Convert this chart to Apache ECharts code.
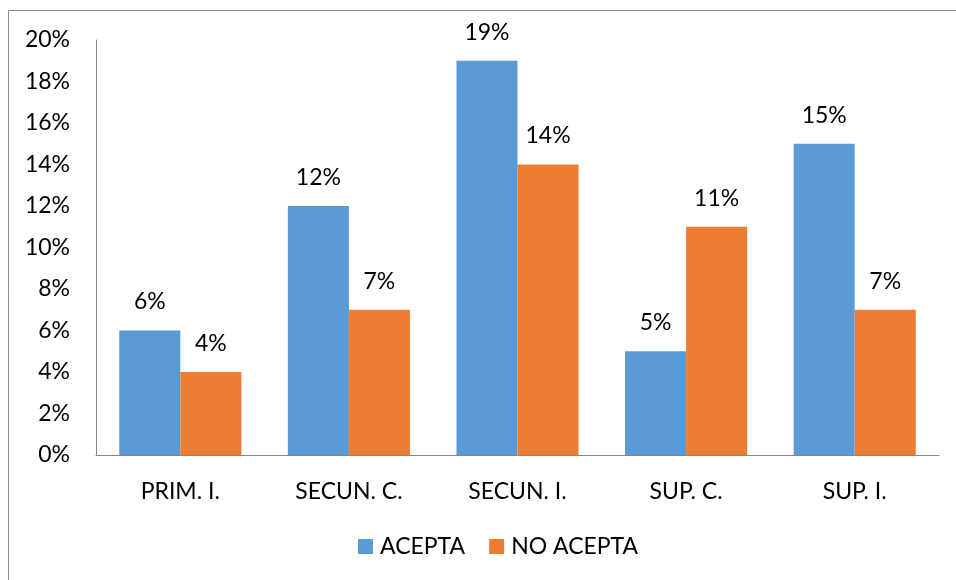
<!DOCTYPE html>
<html>
<head>
<meta charset="utf-8">
<script src="https://cdn.jsdelivr.net/npm/echarts@6/dist/echarts.min.js"></script>
<style>
  html, body { margin: 0; padding: 0; background: #fff; }
  #chart { width: 956px; height: 580px; }
</style>
</head>
<body>
<div id="chart"></div>
<script>
const categories = ['PRIM. I.', 'SECUN. C.', 'SECUN. I.', 'SUP. C.', 'SUP. I.'];
const acepta = [6, 12, 19, 5, 15];
const noAcepta = [4, 7, 14, 11, 7];
const seriesNames = ['ACEPTA', 'NO ACEPTA'];

const FONT = 'Lato, "Open Sans", sans-serif';
const FS = 23;
const chart = echarts.init(document.getElementById('chart'), null, { renderer: 'canvas' });

const labelStyle = {
  show: true,
  position: 'top',
  distance: 17,
  formatter: '{c}%',
  color: '#000',
  fontFamily: FONT,
  fontSize: FS
};

chart.setOption({
  animation: false,
  backgroundColor: '#fff',
  graphic: [{
    type: 'rect',
    shape: { x: 8.5, y: 10.5, width: 960, height: 580 },
    style: { fill: 'none', stroke: '#8c8c8c', lineWidth: 1 },
    silent: true
  }],
  grid: { left: 96, right: 17, top: 40, bottom: 125 },
  legend: {
    bottom: 17,
    left: 353,
    itemWidth: 15,
    itemHeight: 15,
    itemGap: 24,
    icon: 'rect',
    textStyle: { color: '#000', fontFamily: FONT, fontSize: FS, padding: [0, 0, 0, 2] },
    data: seriesNames
  },
  xAxis: {
    type: 'category',
    data: categories,
    axisLine: { lineStyle: { color: '#868686', width: 1 } },
    axisTick: { show: false },
    axisLabel: { color: '#000', fontFamily: FONT, fontSize: FS, margin: 25 }
  },
  yAxis: {
    type: 'value',
    min: 0,
    max: 20,
    interval: 2,
    axisLine: { show: true, lineStyle: { color: '#868686', width: 1 } },
    axisTick: { show: false },
    splitLine: { show: false },
    axisLabel: { color: '#000', fontFamily: FONT, fontSize: FS, margin: 26, formatter: '{value}%' }
  },
  series: [
    {
      name: seriesNames[0],
      type: 'bar',
      data: acepta,
      barCategoryGap: '27.6%',
      barGap: '0%',
      itemStyle: { color: '#5B9BD5' },
      label: labelStyle
    },
    {
      name: seriesNames[1],
      type: 'bar',
      data: noAcepta,
      barCategoryGap: '27.6%',
      barGap: '0%',
      itemStyle: { color: '#ED7D31' },
      label: labelStyle
    }
  ]
});
</script>
</body>
</html>
